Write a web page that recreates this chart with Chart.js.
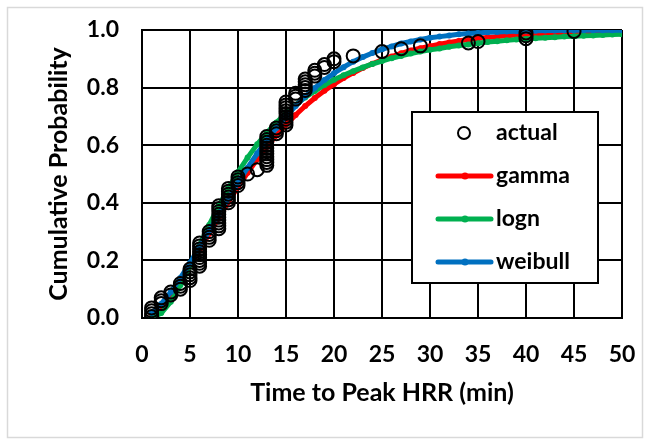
<!DOCTYPE html>
<html>
<head>
<meta charset="utf-8">
<script src="https://cdn.jsdelivr.net/npm/chart.js@4/dist/chart.umd.min.js"></script>
<style>
  html, body { margin: 0; padding: 0; background: #fff; }
  #wrap { position: relative; width: 650px; height: 442px; }
</style>
</head>
<body>
<div id="wrap"><canvas id="cdfChart" width="650" height="442"></canvas></div>
<script>
// observed times (min) and empirical cumulative probability
const actualX = [1,1,1,1, 2,2,2, 3,3, 4,4,4, 5,5,5,5,5,
  6,6,6,6,6,6,6,6,6, 7,7,7,7, 8,8,8,8,8,8,8,8,8, 9,9,9,9,9,9,
  10,10,10,10, 11, 12, 13,13,13,13,13,13,13,13,13,13,13, 14,14,14,
  15,15,15,15,15,15,15,15,15, 16,16,16, 17,17,17,17,17, 18,18,18,
  19,19, 20,20, 22, 25, 27, 29, 34, 35, 40,40,40, 45];
const actualY = [0.005,0.015,0.025,0.035, 0.05,0.06,0.07, 0.08,0.09, 0.10,0.11,0.12, 0.13,0.14,0.15,0.16,0.17,
  0.18,0.19,0.20,0.21,0.22,0.23,0.24,0.25,0.26, 0.27,0.28,0.29,0.30, 0.31,0.32,0.33,0.34,0.35,0.36,0.37,0.38,0.39, 0.40,0.41,0.42,0.43,0.44,0.45,
  0.46,0.47,0.48,0.49, 0.50, 0.515, 0.53,0.54,0.55,0.56,0.57,0.58,0.59,0.60,0.61,0.62,0.63, 0.64,0.65,0.66,
  0.67,0.68,0.69,0.70,0.71,0.72,0.73,0.74,0.75, 0.76,0.77,0.78, 0.79,0.80,0.81,0.82,0.83, 0.84,0.85,0.86,
  0.87,0.88, 0.89,0.90, 0.91, 0.925, 0.935, 0.945, 0.955, 0.96, 0.97,0.98,0.99, 0.995];

// fitted curves, read at whole minutes
const fitX = [1,2,3,4,5,6,7,8,9,10,11,12,13,14,15,16,17,18,19,20,21,22,23,24,25,
  26,27,28,29,30,31,32,33,34,35,36,37,38,39,40,41,42,43,44,45,46,47,48,49,50];
const gammaY = [0.011,0.039,0.079,0.127,0.180,0.236,0.293,0.348,0.403,0.455,0.504,0.551,0.594,0.634,0.671,
  0.705,0.736,0.764,0.789,0.812,0.833,0.851,0.868,0.883,0.896,0.908,0.919,0.929,0.937,0.944,
  0.951,0.957,0.962,0.967,0.971,0.974,0.977,0.980,0.983,0.985,0.987,0.988,0.990,0.991,0.992,
  0.993,0.994,0.995,0.996,0.996];
const lognY = [0.001,0.017,0.056,0.114,0.182,0.253,0.323,0.389,0.451,0.507,0.557,0.603,0.643,0.679,0.711,
  0.740,0.766,0.788,0.809,0.827,0.843,0.857,0.870,0.882,0.892,0.902,0.910,0.918,0.925,0.931,
  0.936,0.942,0.946,0.950,0.954,0.958,0.961,0.964,0.967,0.969,0.971,0.973,0.975,0.977,0.978,
  0.980,0.981,0.983,0.984,0.985];
const weibullY = [0.017,0.049,0.090,0.139,0.191,0.247,0.303,0.360,0.415,0.470,0.522,0.571,0.617,0.660,0.700,
  0.736,0.769,0.799,0.826,0.850,0.871,0.890,0.906,0.920,0.933,0.943,0.953,0.960,0.967,0.973,
  0.977,0.981,0.985,0.988,0.990,0.992,0.993,0.995,0.996,0.997,0.997,0.998,0.998,0.999,0.999,
  0.999,0.999,0.999,0.999,0.999];

const xTicks = [0,5,10,15,20,25,30,35,40,45,50];
const yTicks = [0,0.2,0.4,0.6,0.8,1.0];

const FONT = 'Lato, "Open Sans", sans-serif';

function pts(xs, ys) { return xs.map((x, i) => ({ x: x, y: ys[i] })); }

function fitSet(label, ys, color) {
  return {
    label: label,
    data: pts(fitX, ys),
    showLine: true,
    borderColor: color,
    backgroundColor: color,
    borderWidth: 5,
    pointRadius: 3,
    pointBorderWidth: 0,
    tension: 0
  };
}

// outer frame like the spreadsheet chart area
const framePlugin = {
  id: 'frame',
  beforeDraw(chart) {
    const ctx = chart.ctx;
    ctx.save();
    ctx.fillStyle = '#fff';
    ctx.fillRect(0, 0, chart.width, chart.height);
    ctx.strokeStyle = '#d9d9d9';
    ctx.lineWidth = 1.5;
    ctx.strokeRect(7.5, 7.5, 635, 430);
    ctx.restore();
  }
};

// boxed legend inside the plot
const boxLegend = {
  id: 'boxLegend',
  afterDraw(chart) {
    const ctx = chart.ctx;
    const x0 = 412, y0 = 112, w = 186, h = 171;
    const rows = [133, 176, 219, 262];
    ctx.save();
    ctx.fillStyle = '#fff';
    ctx.fillRect(x0, y0, w, h);
    ctx.strokeStyle = '#000';
    ctx.lineWidth = 2;
    ctx.strokeRect(x0, y0, w, h);
    ctx.font = 'bold 23px ' + FONT;
    ctx.textBaseline = 'middle';
    chart.data.datasets.forEach((ds, i) => {
      const y = rows[i];
      if (ds.showLine) {
        ctx.strokeStyle = ds.borderColor;
        ctx.lineWidth = 5;
        ctx.lineCap = 'round';
        ctx.beginPath();
        ctx.moveTo(438, y);
        ctx.lineTo(491, y);
        ctx.stroke();
        ctx.fillStyle = ds.borderColor;
        ctx.beginPath();
        ctx.arc(465, y, 3.5, 0, Math.PI * 2);
        ctx.fill();
      } else {
        ctx.strokeStyle = '#000';
        ctx.lineWidth = 2;
        ctx.beginPath();
        ctx.arc(464, y, 6, 0, Math.PI * 2);
        ctx.stroke();
      }
      ctx.fillStyle = '#000';
      ctx.fillText(ds.label, 496, y);
    });
    ctx.restore();
  }
};

new Chart(document.getElementById('cdfChart'), {
  type: 'scatter',
  data: {
    datasets: [
      {
        label: 'actual',
        data: pts(actualX, actualY),
        pointRadius: 6.5,
        pointBorderWidth: 2,
        pointBorderColor: '#000',
        pointBackgroundColor: 'rgba(0,0,0,0)',
        order: 0
      },
      Object.assign(fitSet('gamma', gammaY, '#ff0000'), { order: 3 }),
      Object.assign(fitSet('logn', lognY, '#00b050'), { order: 2 }),
      Object.assign(fitSet('weibull', weibullY, '#0070c0'), { order: 1 })
    ]
  },
  options: {
    responsive: false,
    animation: false,
    layout: { padding: { top: 30, right: 28, left: 0, bottom: 0 } },
    plugins: { legend: { display: false }, tooltip: { enabled: false } },
    scales: {
      x: {
        type: 'linear',
        min: 0, max: 50,
        afterFit: s => { s.height = 124; s.paddingLeft = 0; s.paddingRight = 0; },
        afterBuildTicks: s => { s.ticks = xTicks.map(v => ({ value: v })); },
        grid: { color: '#000', lineWidth: 2, drawTicks: false },
        border: { color: '#000', width: 2 },
        ticks: { color: '#000', padding: 23, font: { family: FONT, size: 23, weight: 'bold' } },
        title: {
          display: true, text: 'Time to Peak HRR (min)', color: '#000',
          padding: { top: 0, bottom: 34 },
          font: { family: FONT, size: 25, weight: 'bold' }
        }
      },
      y: {
        min: 0, max: 1,
        afterFit: s => { s.width = 142; s.paddingTop = 0; s.paddingBottom = 0; },
        afterBuildTicks: s => { s.ticks = yTicks.map(v => ({ value: v })); },
        grid: { color: '#000', lineWidth: 2, drawTicks: false },
        border: { color: '#000', width: 2 },
        ticks: {
          color: '#000', padding: 23,
          font: { family: FONT, size: 23, weight: 'bold' },
          callback: v => v.toFixed(1)
        },
        title: {
          display: true, text: 'Cumulative Probability', color: '#000',
          padding: { top: 44, bottom: 0 },
          font: { family: FONT, size: 25, weight: 'bold' }
        }
      }
    }
  },
  plugins: [framePlugin, boxLegend]
});
</script>
</body>
</html>
